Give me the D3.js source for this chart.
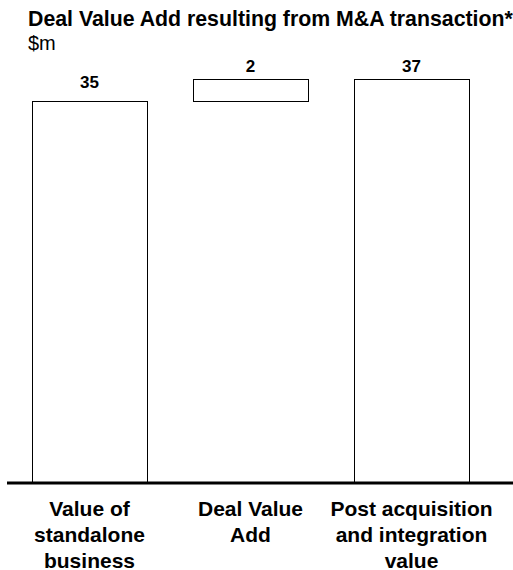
<!DOCTYPE html>
<html>
<head>
<meta charset="utf-8">
<script src="https://cdn.jsdelivr.net/npm/d3@7"></script>
<style>
  html, body { margin: 0; padding: 0; background: #fff; }
  svg { display: block; font-family: "Liberation Sans", Arial, "DejaVu Sans", sans-serif; }
</style>
</head>
<body>
<svg id="chart" width="513" height="570"></svg>
<script>
// Waterfall data ($m)
const categories = ["Value of standalone business", "Deal Value Add", "Post acquisition and integration value"];
const categoryLines = [
  ["Value of", "standalone", "business"],
  ["Deal Value", "Add"],
  ["Post acquisition", "and integration", "value"]
];
const barStart = [0, 35, 0];   // where each bar begins
const barValue = [35, 2, 37];  // value shown above each bar

const title = "Deal Value Add resulting from M&A transaction*";
const unit = "$m";

const svg = d3.select("#chart");

const x = d3.scaleBand()
  .domain(categories)
  .range([9, 492])
  .paddingInner(0.286)
  .paddingOuter(0.143);

const y = d3.scaleLinear()
  .domain([0, 37])
  .range([483, 79]);

const bars = categories.map((c, i) => ({
  cat: c,
  lines: categoryLines[i],
  start: barStart[i],
  end: barStart[i] + barValue[i],
  value: barValue[i]
}));

// Title and unit
svg.append("text")
  .attr("x", 28).attr("y", 26)
  .attr("font-size", 21.3).attr("font-weight", "bold")
  .text(title);
svg.append("text")
  .attr("x", 28).attr("y", 50)
  .attr("font-size", 20)
  .text(unit);

// Bars
svg.append("g").selectAll("rect")
  .data(bars)
  .join("rect")
  .attr("x", d => Math.round(x(d.cat)) + 0.5)
  .attr("y", d => Math.round(y(d.end)) + 0.5)
  .attr("width", Math.round(x.bandwidth()))
  .attr("height", d => Math.round(y(d.start)) - Math.round(y(d.end)))
  .attr("fill", "#fff")
  .attr("stroke", "#000")
  .attr("stroke-width", 1);

// Value labels sit above each bar, held below the header area
const labelTop = 71.5;
svg.append("g").selectAll("text")
  .data(bars)
  .join("text")
  .attr("x", d => x(d.cat) + x.bandwidth() / 2)
  .attr("y", d => Math.max(y(d.end) - 13, labelTop))
  .attr("text-anchor", "middle")
  .attr("font-size", 17)
  .attr("font-weight", "bold")
  .text(d => d.value);

// Baseline
svg.append("line")
  .attr("x1", 7).attr("x2", 513)
  .attr("y1", y(0)).attr("y2", y(0))
  .attr("stroke", "#000")
  .attr("stroke-width", 3);

// Category labels
const cat = svg.append("g").selectAll("text")
  .data(bars)
  .join("text")
  .attr("text-anchor", "middle")
  .attr("font-size", 21)
  .attr("font-weight", "bold");
cat.selectAll("tspan")
  .data(d => d.lines.map(l => ({ l, cx: x(d.cat) + x.bandwidth() / 2 })))
  .join("tspan")
  .attr("x", t => t.cx)
  .attr("y", (t, i) => 515.5 + i * 26)
  .text(t => t.l);
</script>
</body>
</html>
